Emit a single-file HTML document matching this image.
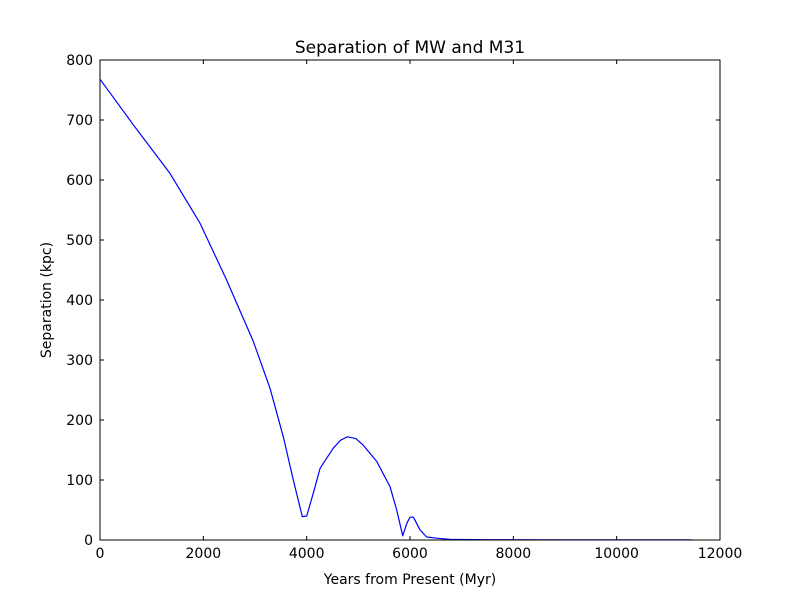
<!DOCTYPE html>
<html><head><meta charset="utf-8"><style>
html,body{margin:0;padding:0;background:#fff;}
svg{display:block;font-family:"DejaVu Sans","Liberation Sans",sans-serif;}
</style></head><body>
<svg id="chart" width="800" height="600">
<rect width="800" height="600" fill="#fff"/>
<text x="410" y="53" font-size="17" text-anchor="middle">Separation of MW and M31</text>
<text x="410" y="584" font-size="14" text-anchor="middle">Years from Present (Myr)</text>
<text x="51" y="300" font-size="14" text-anchor="middle" transform="rotate(-90 51 300)">Separation (kpc)</text>
<g id="ticks"></g>
<path id="line" fill="none" stroke="#0000ff" stroke-width="1.2" stroke-linejoin="round"/>
<rect x="100" y="60" width="620" height="480" fill="none" stroke="#000" stroke-width="1"/>
</svg>
<script>
const xTicks=[0,2000,4000,6000,8000,10000,12000];
const yTicks=[0,100,200,300,400,500,600,700,800];
const years=[0,645,1355,1935,2452,2968,3290,3548,3742,3916,4000,4129,4258,4323,4516,4650,4787,4950,5097,5355,5613,5742,5858,5940,6000,6065,6194,6323,6516,6774,7500,9000,11450];
const separation=[768,692,611,528,433,331,253,172,100,39,40,78,119,128,153,166,172,169,158,131,89,50,7,28,38,38,17,5,3,1,0.5,0.3,0.3];
const X=v=>100+v/12000*620, Y=v=>540-v/800*480;
const ns="http://www.w3.org/2000/svg", g=document.getElementById('ticks');
function mk(t,a){const e=document.createElementNS(ns,t);for(const k in a)e.setAttribute(k,a[k]);g.appendChild(e);return e;}
xTicks.forEach(v=>{const x=X(v);
const t1=mk('line',{x1:x,x2:x,y1:540,y2:536,stroke:'#000'});


const t2=mk('line',{x1:x,x2:x,y1:60,y2:64,stroke:'#000'});


const l=mk('text',{x:x,y:558,'font-size':14,'text-anchor':'middle'});l.textContent=v;

});
yTicks.forEach(v=>{const y=Y(v);
const t1=mk('line',{x1:100,x2:104,y1:y,y2:y,stroke:'#000'});


const t2=mk('line',{x1:716,x2:720,y1:y,y2:y,stroke:'#000'});


const l=mk('text',{x:93,y:y+5,'font-size':14,'text-anchor':'end'});l.textContent=v;

});
document.getElementById('line').setAttribute('d',years.map((v,i)=>(i?'L':'M')+X(v).toFixed(1)+' '+Y(separation[i]).toFixed(1)).join(' '));
</script>
</body></html>
